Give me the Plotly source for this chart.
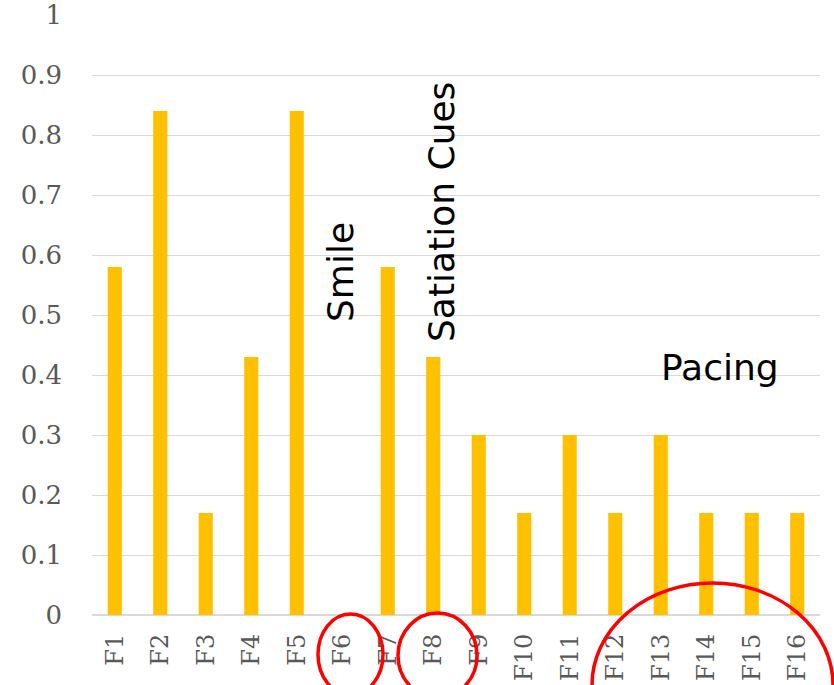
import plotly.graph_objects as go

# Feature scores
features = ["F1", "F2", "F3", "F4", "F5", "F6", "F7", "F8",
            "F9", "F10", "F11", "F12", "F13", "F14", "F15", "F16"]
scores = [0.58, 0.84, 0.17, 0.43, 0.84, 0.0, 0.58, 0.43,
          0.30, 0.17, 0.30, 0.17, 0.30, 0.17, 0.17, 0.17]
y_ticks = [0, 0.1, 0.2, 0.3, 0.4, 0.5, 0.6, 0.7, 0.8, 0.9, 1]
y_tick_text = ["0", "0.1", "0.2", "0.3", "0.4", "0.5", "0.6", "0.7", "0.8", "0.9", "1"]

W, H = 834, 685
ML, MR, MT, MB = 92, 14, 15, 70
PW, PH = W - ML - MR, H - MT - MB


def px(x):
    return (x - ML) / PW


def py(y):
    return (H - MB - y) / PH


fig = go.Figure(
    go.Bar(
        x=features,
        y=scores,
        marker=dict(color="#FFC000", line=dict(width=0)),
        width=0.31,
        hoverinfo="x+y",
    )
)

tick_font = dict(family="DejaVu Serif", color="#595959")

fig.update_layout(
    width=W,
    height=H,
    margin=dict(l=ML, r=MR, t=MT, b=MB, autoexpand=False),
    paper_bgcolor="white",
    plot_bgcolor="white",
    showlegend=False,
    xaxis=dict(
        range=[-0.5, 15.5],
        tickangle=-90,
        tickfont=dict(size=24, **tick_font),
        showgrid=False,
        showline=False,
        zeroline=False,
        ticks="",
        ticklabelstandoff=13,
        automargin=False,
    ),
    yaxis=dict(
        range=[0, 1],
        tickvals=y_ticks,
        ticktext=y_tick_text,
        tickfont=dict(size=26, **tick_font),
        showgrid=True,
        gridcolor="#D9D9D9",
        gridwidth=1.2,
        zeroline=True,
        zerolinecolor="#D9D9D9",
        zerolinewidth=2,
        showline=False,
        ticks="",
        ticklabelstandoff=29,
        automargin=False,
    ),
)

# Group labels
label_font = dict(family="DejaVu Sans", size=36, color="black")
fig.add_annotation(text="Smile", x=px(340), y=py(272), xref="paper", yref="paper",
                   showarrow=False, textangle=-90, font=label_font,
                   xanchor="center", yanchor="middle")
fig.add_annotation(text="Satiation Cues", x=px(441), y=py(212), xref="paper", yref="paper",
                   showarrow=False, textangle=-90, font=label_font,
                   xanchor="center", yanchor="middle")
fig.add_annotation(text="Pacing", x=px(720), y=py(367), xref="paper", yref="paper",
                   showarrow=False, font=label_font,
                   xanchor="center", yanchor="middle")

# Highlight rings around selected feature labels
rings = [(318, 614, 383, 695), (398, 613, 477, 698), (592, 583, 833, 787)]
for x0, y0, x1, y1 in rings:
    fig.add_shape(type="circle", xref="paper", yref="paper",
                  x0=px(x0), x1=px(x1), y0=py(y1), y1=py(y0),
                  line=dict(color="#FF0000", width=3.5), layer="above")

fig.write_html("out.html")
